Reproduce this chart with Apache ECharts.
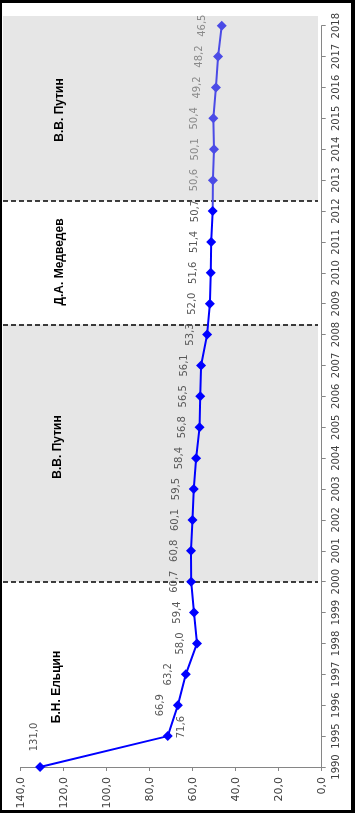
<!DOCTYPE html>
<html>
<head>
<meta charset="utf-8">
<script src="https://cdn.jsdelivr.net/npm/echarts@6/dist/echarts.min.js"></script>
<style>
html,body{margin:0;padding:0;background:#fff;}
#c{position:absolute;left:0;top:0;width:355px;height:813px;}
#frame{position:absolute;left:0;top:0;width:355px;height:813px;box-sizing:border-box;border-style:solid;border-color:#000;border-width:3px 4px 3px 2px;pointer-events:none;}
</style>
</head>
<body>
<div id="c"></div>
<div id="frame"></div>
<script>
var years = ['1990','1995','1996','1997','1998','1999','2000','2001','2002','2003','2004','2005','2006','2007','2008','2009','2010','2011','2012','2013','2014','2015','2016','2017','2018'];
var values = [131.0,71.6,66.9,63.2,58.0,59.4,60.7,60.8,60.1,59.5,58.4,56.8,56.5,56.1,53.3,52.0,51.6,51.4,50.7,50.6,50.1,50.4,49.2,48.2,46.5];
var valueAxisMin = 0, valueAxisMax = 140, valueAxisStep = 20;
// term boundaries as positions on the year axis (index units): 2000, May 2008, May 2012
var termBoundaries = [6, 14.33, 18.33];
var presidents = ['Б.Н. Ельцин', 'В.В. Путин', 'Д.А. Медведев', 'В.В. Путин'];
var splitIndex = 18; // last year (2012) drawn in the first colour

// label placement tweaks (pixel offsets relative to the marker box)
var labelTweaks = {
  0: {position: [-1, -25], align: 'center', verticalAlign: 'middle'},
  1: {position: [19, -4], align: 'center', verticalAlign: 'middle'}
};

function fmt(v){ return v.toFixed(1).replace('.', ','); }

var chart = echarts.init(document.getElementById('c'), null, {renderer:'canvas'});

var axisLabelFont = '"DejaVu Sans", Verdana, sans-serif';
var annoFont = 'bold 12px "Liberation Sans Narrow", "Arial Narrow", "Liberation Sans", Arial, sans-serif';

var darkData = [], lightData = [];
values.forEach(function(v, i){
  if (i <= splitIndex) {
    var item = {value: [v, years[i]]};
    if (labelTweaks[i]) item.label = labelTweaks[i];
    darkData.push(item);
  }
  if (i >= splitIndex) lightData.push({
    value: [v, years[i]],
    symbolSize: i === splitIndex ? 0 : 10,
    label: {show: i !== splitIndex}
  });
});

var topIdx = (years.length - 1) * (767 - 16) / (767 - 25.7);

function lineLabel(color, dist){
  return {
    show: true, position: 'left', distance: dist, rotate: 90,
    align: 'center', verticalAlign: 'bottom',
    fontSize: 10, fontFamily: axisLabelFont, color: color,
    formatter: function(p){ return fmt(p.value[0]); }
  };
}

var option = {
  backgroundColor: '#ffffff',
  animation: false,
  grid: [
    {left: 20.7, right: 33.3, top: 25.7, bottom: 46},
    {left: 3, right: 37, top: 16, bottom: 46}
  ],
  xAxis: [
    {
      gridIndex: 0, type: 'value', inverse: true,
      min: valueAxisMin, max: valueAxisMax, interval: valueAxisStep,
      position: 'bottom',
      axisLine: {show: true, onZero: false, lineStyle: {color: '#868686', width: 1}},
      axisTick: {show: true, length: 4, lineStyle: {color: '#868686'}},
      splitLine: {show: false},
      axisLabel: {rotate: 90, margin: 10, fontSize: 11, fontFamily: axisLabelFont, color: '#404040', formatter: function(v){ return fmt(v); }}
    },
    {
      gridIndex: 1, type: 'value', min: 0, max: 1, show: false
    }
  ],
  yAxis: [
    {
      gridIndex: 0, type: 'category', data: years, boundaryGap: false,
      position: 'right',
      axisLine: {show: true, onZero: false, lineStyle: {color: '#868686', width: 1}},
      axisTick: {show: true, length: 4, inside: false, alignWithLabel: true, lineStyle: {color: '#868686'}},
      splitLine: {show: false},
      axisLabel: {rotate: 90, margin: 10, fontSize: 10, fontFamily: axisLabelFont, color: '#404040', interval: 0}
    },
    {
      gridIndex: 1, type: 'value', min: 0, max: topIdx, show: false
    }
  ],
  series: [
    {
      type: 'line', xAxisIndex: 1, yAxisIndex: 1, data: [], silent: true,
      markArea: {
        silent: true,
        itemStyle: {color: '#e6e6e6'},
        data: [
          [{yAxis: termBoundaries[0]}, {yAxis: termBoundaries[1]}],
          [{yAxis: termBoundaries[2]}, {yAxis: topIdx}]
        ]
      },
      markLine: {
        silent: true, symbol: 'none',
        lineStyle: {color: '#000', type: [5, 3], width: 1.6},
        label: {show: false},
        data: termBoundaries.map(function(b){ return {yAxis: b}; })
      }
    },
    {
      type: 'line', xAxisIndex: 0, yAxisIndex: 0, data: darkData,
      symbol: 'diamond', symbolSize: 10,
      itemStyle: {color: '#0000ff'},
      lineStyle: {width: 2, color: '#0000ff'},
      z: 5,
      label: lineLabel('#595959', 7)
    },
    {
      type: 'line', xAxisIndex: 0, yAxisIndex: 0, data: lightData,
      symbol: 'diamond', symbolSize: 10,
      itemStyle: {color: '#4b4be6'},
      lineStyle: {width: 2, color: '#4b4be6'},
      z: 5,
      label: lineLabel('#8a8a8a', 9)
    }
  ],
  graphic: [
    {type:'text', z: 100, x: 57, y: 687, rotation: Math.PI/2, style:{text: presidents[0], font: annoFont, fill:'#000', align:'center', verticalAlign:'middle'}},
    {type:'text', z: 100, x: 58, y: 447, rotation: Math.PI/2, style:{text: presidents[1], font: annoFont, fill:'#000', align:'center', verticalAlign:'middle'}},
    {type:'text', z: 100, x: 60, y: 262, rotation: Math.PI/2, style:{text: presidents[2], font: annoFont, fill:'#000', align:'center', verticalAlign:'middle'}},
    {type:'text', z: 100, x: 60, y: 110, rotation: Math.PI/2, style:{text: presidents[3], font: annoFont, fill:'#000', align:'center', verticalAlign:'middle'}}
  ]
};
chart.setOption(option);
</script>
</body>
</html>
